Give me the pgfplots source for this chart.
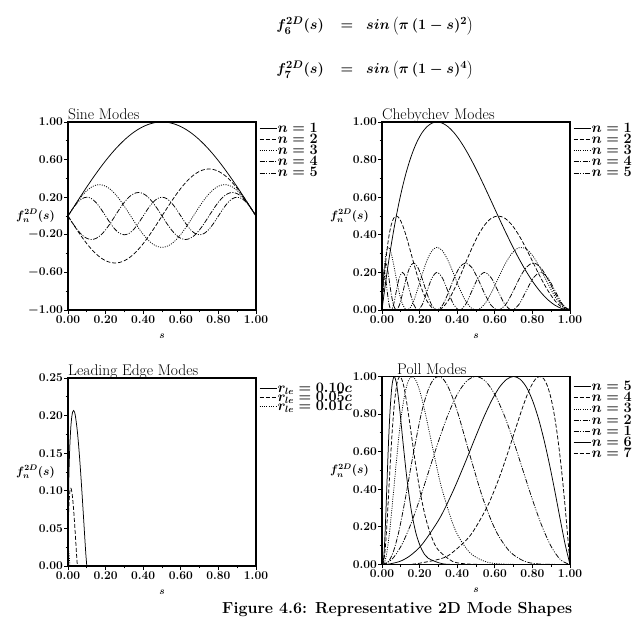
\documentclass[border=0pt]{standalone}
\usepackage{pgfplots}
\pgfplotsset{compat=1.18}
\usepackage{pgfplotstable}

\pgfplotstableread{
s f1 f2 f3 f4 f5
0.000 0 0 0 0 0
0.025 0.0785 -0.0782 0.0778 -0.0773 0.0765
0.050 0.1564 -0.1545 0.1513 -0.1470 0.1414
0.075 0.2334 -0.2270 0.2165 -0.2023 0.1848
0.100 0.3090 -0.2939 0.2697 -0.2378 0.2000
0.125 0.3827 -0.3536 0.3080 -0.2500 0.1848
0.150 0.4540 -0.4045 0.3292 -0.2378 0.1414
0.175 0.5225 -0.4455 0.3323 -0.2023 0.0765
0.200 0.5878 -0.4755 0.3170 -0.1470 0
0.225 0.6494 -0.4939 0.2842 -0.0773 -0.0765
0.250 0.7071 -0.5000 0.2357 0 -0.1414
0.275 0.7604 -0.4939 0.1742 0.0773 -0.1848
0.300 0.8090 -0.4755 0.1030 0.1470 -0.2000
0.325 0.8526 -0.4455 0.0262 0.2023 -0.1848
0.350 0.8910 -0.4045 -0.0521 0.2378 -0.1414
0.375 0.9239 -0.3536 -0.1276 0.2500 -0.0765
0.400 0.9511 -0.2939 -0.1959 0.2378 0
0.425 0.9724 -0.2270 -0.2535 0.2023 0.0765
0.450 0.9877 -0.1545 -0.2970 0.1470 0.1414
0.475 0.9969 -0.0782 -0.3241 0.0773 0.1848
0.500 1.0000 0 -0.3333 0 0.2000
0.525 0.9969 0.0782 -0.3241 -0.0773 0.1848
0.550 0.9877 0.1545 -0.2970 -0.1470 0.1414
0.575 0.9724 0.2270 -0.2535 -0.2023 0.0765
0.600 0.9511 0.2939 -0.1959 -0.2378 0
0.625 0.9239 0.3536 -0.1276 -0.2500 -0.0765
0.650 0.8910 0.4045 -0.0521 -0.2378 -0.1414
0.675 0.8526 0.4455 0.0262 -0.2023 -0.1848
0.700 0.8090 0.4755 0.1030 -0.1470 -0.2000
0.725 0.7604 0.4939 0.1742 -0.0773 -0.1848
0.750 0.7071 0.5000 0.2357 0 -0.1414
0.775 0.6494 0.4939 0.2842 0.0773 -0.0765
0.800 0.5878 0.4755 0.3170 0.1470 0
0.825 0.5225 0.4455 0.3323 0.2023 0.0765
0.850 0.4540 0.4045 0.3292 0.2378 0.1414
0.875 0.3827 0.3536 0.3080 0.2500 0.1848
0.900 0.3090 0.2939 0.2697 0.2378 0.2000
0.925 0.2334 0.2270 0.2165 0.2023 0.1848
0.950 0.1564 0.1545 0.1513 0.1470 0.1414
0.975 0.0785 0.0782 0.0778 0.0773 0.0765
1.000 0 0 0 0 0
}\sinetab

\pgfplotstableread{
s c1 c2 c3 c4 c5
0 0 0 0 0 0
0.00077 0.0062 0.0122 0.0182 0.0239 0.0293
0.00308 0.0245 0.0477 0.0687 0.0864 0.1000
0.00693 0.0545 0.1031 0.1406 0.1636 0.1707
0.01231 0.0955 0.1727 0.2182 0.2261 0.2000
0.01921 0.1464 0.2500 0.2845 0.2500 0.1707
0.02763 0.2061 0.3273 0.3252 0.2261 0.1000
0.03754 0.2730 0.3970 0.3313 0.1636 0.0293
0.04894 0.3455 0.4523 0.3015 0.0864 0
0.06181 0.4217 0.4878 0.2423 0.0239 0.0293
0.07612 0.5000 0.5000 0.1667 0 0.1000
0.09186 0.5783 0.4878 0.0910 0.0239 0.1707
0.10899 0.6545 0.4523 0.0318 0.0864 0.2000
0.12750 0.7270 0.3970 0.0021 0.1636 0.1707
0.14736 0.7939 0.3273 0.0082 0.2261 0.1000
0.16853 0.8536 0.2500 0.0488 0.2500 0.0293
0.19098 0.9045 0.1727 0.1152 0.2261 0
0.21468 0.9455 0.1031 0.1928 0.1636 0.0293
0.23959 0.9755 0.0477 0.2646 0.0864 0.1000
0.26568 0.9938 0.0122 0.3152 0.0239 0.1707
0.29289 1.0000 0 0.3333 0 0.2000
0.32120 0.9938 0.0122 0.3152 0.0239 0.1707
0.35055 0.9755 0.0477 0.2646 0.0864 0.1000
0.38091 0.9455 0.1031 0.1928 0.1636 0.0293
0.41221 0.9045 0.1727 0.1152 0.2261 0
0.44443 0.8536 0.2500 0.0488 0.2500 0.0293
0.47750 0.7939 0.3273 0.0082 0.2261 0.1000
0.51138 0.7270 0.3970 0.0021 0.1636 0.1707
0.54601 0.6545 0.4523 0.0318 0.0864 0.2000
0.58134 0.5783 0.4878 0.0910 0.0239 0.1707
0.61732 0.5000 0.5000 0.1667 0 0.1000
0.65388 0.4217 0.4878 0.2423 0.0239 0.0293
0.69098 0.3455 0.4523 0.3015 0.0864 0
0.72856 0.2730 0.3970 0.3313 0.1636 0.0293
0.76655 0.2061 0.3273 0.3252 0.2261 0.1000
0.80491 0.1464 0.2500 0.2845 0.2500 0.1707
0.84357 0.0955 0.1727 0.2182 0.2261 0.2000
0.88246 0.0545 0.1031 0.1406 0.1636 0.1707
0.92154 0.0245 0.0477 0.0687 0.0864 0.1000
0.96074 0.0062 0.0122 0.0182 0.0239 0.0293
1 0 0 0 0 0
}\chebtab

\newcommand\eqfont{\fontsize{15.3}{17}\selectfont\boldmath}
\newcommand\bminus{{\boldmath$-$}}

\tikzset{
  m1/.style={black, line width=0.75pt, solid},
  m2/.style={black, line width=0.75pt, dash pattern=on 4pt off 2pt},
  m3/.style={black, line width=0.75pt, dash pattern=on 1pt off 1.3pt},
  m4/.style={black, line width=0.75pt, dash pattern=on 5pt off 1.5pt on 1pt off 1.5pt},
  m5/.style={black, line width=0.75pt, dash pattern=on 5pt off 1.5pt on 1pt off 1.5pt on 1pt off 1.5pt},
}

\pgfplotsset{
  every axis title/.style={at={(rel axis cs:0,1)}, anchor=base west, yshift=2pt, inner sep=0pt, font=\fontsize{15.5}{17}\selectfont},
  mode axis/.style={
    scale only axis, width=188pt, height=188pt,
    xmin=0, xmax=1,
    xtick={0,0.2,0.4,0.6,0.8,1},
    xticklabels={0.00,0.20,0.40,0.60,0.80,1.00},
    minor xtick={0.1,0.3,0.5,0.7,0.9},
    tick align=outside, xtick pos=bottom, ytick pos=left,
    major tick length=4pt, minor tick length=2.5pt,
    every tick/.append style={black, line width=0.8pt},
    tick label style={font=\fontsize{12}{13}\selectfont\bfseries, inner sep=1pt},
    axis line style={line width=1.3pt},
    legend style={at={(1,1)}, anchor=north west, xshift=3pt, draw=none, fill=none,
      inner sep=0pt, row sep=-0.8pt, nodes={inner sep=0.6pt},
      font=\fontsize{13.5}{14}\selectfont\boldmath},
    legend cell align=left,
    legend image code/.code={\draw[##1] (0pt,0pt) -- (17pt,0pt);},
    xlabel={$s$}, ylabel={$f_n^{2D}(s)$},
    xlabel style={at={(rel axis cs:0.5,0)}, anchor=center, yshift=-26pt, font=\fontsize{10}{12}\selectfont\boldmath},
    ylabel style={at={(rel axis cs:0,0.5)}, anchor=east, rotate=-90, xshift=-13pt, inner sep=0pt, font=\fontsize{11.5}{12}\selectfont\boldmath},
  },
}

\begin{document}
\begin{tikzpicture}
\path[use as bounding box] (0,0) rectangle (637pt,618pt);

% equations
\node[anchor=base east, inner sep=0pt, font=\eqfont] at (324pt,588pt) {$f_6^{2D}(s)$};
\node[anchor=base, inner sep=0pt, font=\eqfont] at (347pt,588pt) {$=$};
\node[anchor=base west, inner sep=0pt, font=\eqfont] at (366pt,588pt) {$sin\left(\pi\,(1-s)^2\right)$};
\node[anchor=base east, inner sep=0pt, font=\eqfont] at (324pt,544pt) {$f_7^{2D}(s)$};
\node[anchor=base, inner sep=0pt, font=\eqfont] at (347pt,544pt) {$=$};
\node[anchor=base west, inner sep=0pt, font=\eqfont] at (366pt,544pt) {$sin\left(\pi\,(1-s)^4\right)$};

% Sine modes
\begin{axis}[mode axis, at={(68pt,308pt)}, anchor=south west,
  ymin=-1, ymax=1,
  ytick={-1,-0.6,-0.2,0.2,0.6,1},
  yticklabels={\bminus1.00,\bminus0.60,\bminus0.20,0.20,0.60,1.00},
  minor ytick={-0.8,-0.4,0,0.4,0.8},
  title={Sine Modes}]
\addplot[m1, smooth] table[x=s,y=f1]{\sinetab};
\addplot[m2, smooth] table[x=s,y=f2]{\sinetab};
\addplot[m3, smooth] table[x=s,y=f3]{\sinetab};
\addplot[m4, smooth] table[x=s,y=f4]{\sinetab};
\addplot[m5, smooth] table[x=s,y=f5]{\sinetab};
\legend{$n = 1$,$n = 2$,$n = 3$,$n = 4$,$n = 5$}
\end{axis}

% Chebychev modes
\begin{axis}[mode axis, at={(382pt,308pt)}, anchor=south west,
  ymin=0, ymax=1,
  ytick={0,0.2,0.4,0.6,0.8,1},
  yticklabels={0.00,0.20,0.40,0.60,0.80,1.00},
  minor ytick={0.1,0.3,0.5,0.7,0.9},
  title={Chebychev Modes}]
\addplot[m1, smooth] table[x=s,y=c1]{\chebtab};
\addplot[m2, smooth] table[x=s,y=c2]{\chebtab};
\addplot[m3, smooth] table[x=s,y=c3]{\chebtab};
\addplot[m4, smooth] table[x=s,y=c4]{\chebtab};
\addplot[m5, smooth] table[x=s,y=c5]{\chebtab};
\legend{$n = 1$,$n = 2$,$n = 3$,$n = 4$,$n = 5$}
\end{axis}

% Leading edge modes
\begin{axis}[mode axis, at={(68pt,52pt)}, anchor=south west,
  ymin=0, ymax=0.25,
  ytick={0,0.05,0.1,0.15,0.2,0.25},
  yticklabels={0.00,0.05,0.10,0.15,0.20,0.25},
  minor ytick={0.025,0.075,0.125,0.175,0.225},
  legend style={yshift=-4pt, row sep=-3pt},
  title={Leading Edge Modes}]
\addplot[m1, smooth] coordinates {(0,0) (0.0002,0.0259) (0.001,0.0573) (0.003,0.0967) (0.006,0.1319) (0.01,0.1615) (0.015,0.1846) (0.02,0.1983) (0.025,0.2051) (0.03,0.2068) (0.035,0.2045) (0.04,0.1985) (0.05,0.1784) (0.06,0.1495) (0.07,0.1143) (0.08,0.0751) (0.09,0.0348) (0.095,0.0155) (0.1,0)};
\addplot[m2, smooth] coordinates {(0,0) (0.0001,0.0129) (0.0005,0.0287) (0.0015,0.0483) (0.003,0.0659) (0.005,0.0807) (0.0075,0.0923) (0.01,0.0992) (0.0125,0.1026) (0.015,0.1034) (0.0175,0.1023) (0.02,0.0993) (0.025,0.0892) (0.03,0.0747) (0.035,0.0571) (0.04,0.0376) (0.045,0.0174) (0.0475,0.0078) (0.05,0)};
\addplot[m3, smooth] coordinates {(0,0) (0.0001,0.0057) (0.0003,0.0097) (0.0006,0.0132) (0.001,0.0162) (0.0015,0.0185) (0.002,0.0198) (0.003,0.0207) (0.004,0.0199) (0.005,0.0178) (0.006,0.0149) (0.007,0.0114) (0.008,0.0075) (0.009,0.0035) (0.01,0)};
\legend{$r_{le} = 0.10c$,$r_{le} = 0.05c$,$r_{le} = 0.01c$}
\end{axis}

% Poll modes
\begin{axis}[mode axis, at={(382pt,53.5pt)}, anchor=south west,
  ymin=0, ymax=1,
  ytick={0,0.2,0.4,0.6,0.8,1},
  yticklabels={0.00,0.20,0.40,0.60,0.80,1.00},
  minor ytick={0.1,0.3,0.5,0.7,0.9},
  legend style={yshift=-4pt},
  title style={xshift=15pt},
  title={Poll Modes}]
\addplot[m1, smooth] coordinates {(0,0) (0.0042,0.004) (0.0087,0.034) (0.0119,0.078) (0.0159,0.158) (0.0209,0.282) (0.0270,0.449) (0.0342,0.639) (0.0429,0.820) (0.0531,0.952) (0.0650,1) (0.0788,0.952) (0.0947,0.820) (0.1128,0.639) (0.1334,0.449) (0.1567,0.282) (0.1829,0.158) (0.2123,0.078) (0.2450,0.034) (0.3216,0.004) (0.4149,0)};
\addplot[m2, smooth] coordinates {(0,0) (0.0042,0.002) (0.0090,0.016) (0.0168,0.079) (0.0220,0.148) (0.0283,0.250) (0.0358,0.387) (0.0445,0.548) (0.0547,0.715) (0.0664,0.862) (0.0798,0.964) (0.0950,1) (0.1121,0.964) (0.1313,0.862) (0.1527,0.715) (0.1764,0.548) (0.2027,0.387) (0.2315,0.250) (0.2633,0.148) (0.2978,0.079) (0.3764,0.016) (0.4687,0.002) (0.6,0)};
\addplot[m3, smooth] coordinates {(0,0) (0.0066,0.002) (0.0142,0.014) (0.0256,0.063) (0.0415,0.184) (0.0623,0.397) (0.0748,0.531) (0.0887,0.670) (0.1041,0.799) (0.1211,0.906) (0.1397,0.976) (0.16,1) (0.182,0.976) (0.2058,0.906) (0.2315,0.799) (0.2591,0.670) (0.2886,0.531) (0.3201,0.397) (0.3894,0.184) (0.4673,0.063) (0.5544,0.014) (0.6507,0.002) (0.8,0)};
\addplot[m4, smooth] coordinates {(0,0) (0.0183,0.003) (0.0371,0.019) (0.0611,0.070) (0.0900,0.177) (0.1235,0.347) (0.1615,0.562) (0.2036,0.778) (0.2262,0.869) (0.2498,0.940) (0.2745,0.985) (0.3,1) (0.3265,0.985) (0.354,0.940) (0.3824,0.869) (0.4118,0.778) (0.4732,0.562) (0.5382,0.347) (0.6067,0.177) (0.6788,0.070) (0.754,0.019) (0.8327,0.003) (1,0)};
\addplot[m5, smooth] coordinates {(0,0) (0.05,0.0245) (0.1,0.0955) (0.15,0.2061) (0.2,0.3455) (0.25,0.5) (0.3,0.6545) (0.35,0.7939) (0.4,0.9045) (0.45,0.9755) (0.5,1) (0.55,0.9755) (0.6,0.9045) (0.65,0.7939) (0.7,0.6545) (0.75,0.5) (0.8,0.3455) (0.85,0.2061) (0.9,0.0955) (0.95,0.0245) (1,0)};
\addplot[m1, smooth] coordinates {(0,0) (0.0286,0.001) (0.0935,0.016) (0.1498,0.047) (0.2141,0.108) (0.3058,0.244) (0.3767,0.388) (0.4369,0.529) (0.49,0.660) (0.5382,0.776) (0.5826,0.871) (0.6241,0.942) (0.663,0.985) (0.7,1) (0.7352,0.985) (0.7689,0.942) (0.8012,0.871) (0.8323,0.776) (0.8624,0.660) (0.8915,0.529) (0.9198,0.388) (0.9472,0.244) (0.974,0.108) (1,0)};
\addplot[m2, smooth] coordinates {(0,0) (0.0988,0.0003) (0.176,0.003) (0.314,0.031) (0.3738,0.063) (0.4708,0.156) (0.5604,0.309) (0.6206,0.454) (0.6671,0.588) (0.7056,0.707) (0.7388,0.809) (0.768,0.891) (0.7942,0.951) (0.8181,0.988) (0.84,1) (0.8604,0.988) (0.8794,0.951) (0.8973,0.891) (0.9142,0.809) (0.9302,0.707) (0.9454,0.588) (0.96,0.454) (0.9738,0.309) (0.9872,0.156) (1,0)};
\legend{$n = 5$,$n = 4$,$n = 3$,$n = 2$,$n = 1$,$n = 6$,$n = 7$}
\end{axis}

% caption (partly cut by the page edge)
\node[anchor=base west, inner sep=0pt, font=\fontsize{16}{18}\selectfont\bfseries] at (222pt,4pt) {Figure 4.6: Representative 2D Mode Shapes};
\end{tikzpicture}
\end{document}
